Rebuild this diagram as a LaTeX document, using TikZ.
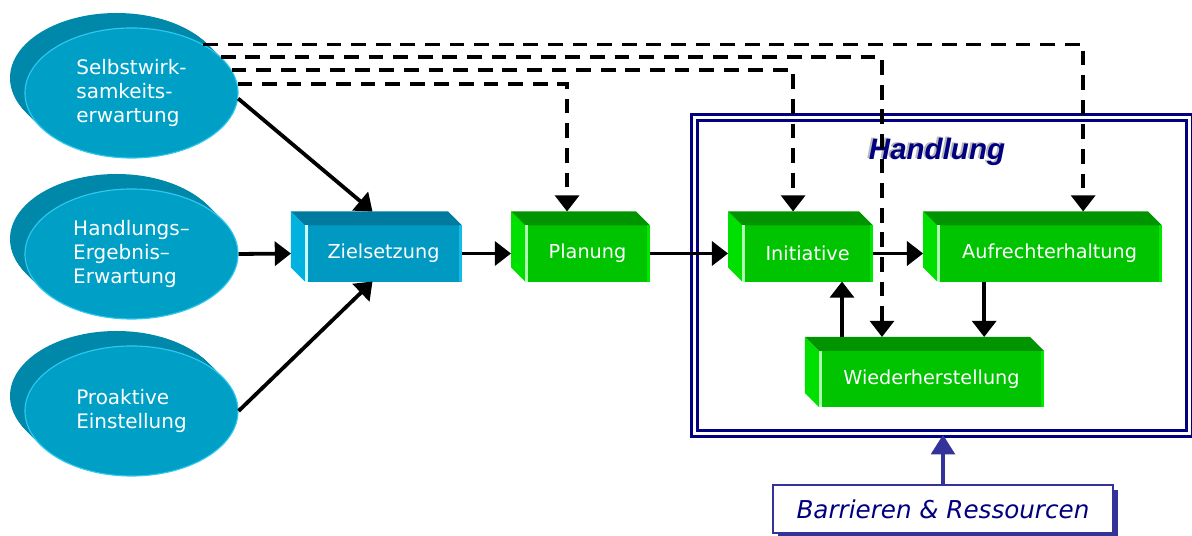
\documentclass[tikz,border=0pt]{standalone}
\usepackage{fontspec}
\setmainfont{DejaVu Sans}
\newfontfamily\titlefont{Liberation Sans}
\definecolor{EFront}{HTML}{00A0C6}
\definecolor{ESide}{HTML}{0088AA}
\definecolor{ERim}{HTML}{30C8EE}
\definecolor{ZFront}{HTML}{0099C2}
\definecolor{ZTop}{HTML}{007A9E}
\definecolor{ZSide}{HTML}{00B2DD}
\definecolor{ZHi}{HTML}{C8FFFF}
\definecolor{ZRim}{HTML}{10BDE8}
\definecolor{GFront}{HTML}{00C400}
\definecolor{GTop}{HTML}{009400}
\definecolor{GSide}{HTML}{00E000}
\definecolor{GHi}{HTML}{B0FFB0}
\definecolor{GRim}{HTML}{00E800}
\definecolor{Navy}{HTML}{000080}
\definecolor{NavyB}{HTML}{333399}
\usetikzlibrary{positioning,shapes.geometric,arrows.meta,calc,shadows}

\begin{document}
\begin{tikzpicture}[x=0.025cm, y=-0.025cm,
    ell/.style={ellipse, fill=EFront, draw=ERim, line width=0.8pt, minimum width=5.325cm,
      minimum height=3.25cm, text=white, align=left, font=\fontsize{14.2}{17}\selectfont},
    blk/.style={rectangle, minimum height=1.4cm, inner sep=0pt, outer sep=0pt, text=white,
      font=\fontsize{13.7}{16}\selectfont},
    arr/.style={-{Triangle[length=11.5pt,width=17pt]}, line width=2.7pt},
    dsh/.style={arr, dash pattern=on 10.5pt off 7pt}]
  \useasboundingbox (0,0) rectangle (1192,536);

  % Ellipsen mit Tiefe
  \foreach \cy in {93,254,411}
    \foreach \k in {15,14,...,1}
      \fill[ESide] (131.5-\k,\cy-\k) ellipse [x radius=106.5, y radius=65];
  \node[ell] (selbst) at (131.5,93) {Selbstwirk-\\samkeits-\\erwartung};
  \node[ell] (ergebnis) at (131.5,254) {Handlungs–\\Ergebnis–\\Erwartung};
  \node[ell] (proaktiv) at (131.5,411) {Proaktive\\Einstellung};

  % Rahmen
  \node[draw=Navy, line width=1.8pt, double=white, double distance=2.2pt,
    minimum width=12.375cm, minimum height=7.9cm, inner sep=0pt] (handlung) at (942,275.5) {};
  \node[text=gray!55, font=\titlefont\bfseries\itshape\fontsize{21}{24}\selectfont] (schatten) at (935,151) {Handlung};
  \node[text=Navy, font=\titlefont\bfseries\itshape\fontsize{21}{24}\selectfont] (titel) at (937,152) {Handlung};

  % Quader
  \node[blk, fill=ZFront, minimum width=3.925cm] (ziel) at (383.5,253.5) {Zielsetzung};
  \node[blk, fill=GFront, minimum width=3.125cm, right=1.575cm of ziel] (plan) {Planung};
  \node[blk, fill=GFront, minimum width=3.275cm, right=2.3cm of plan] (init) {Initiative};
  \node[blk, fill=GFront, minimum width=5.625cm, right=1.6cm of init] (aufrecht) {Aufrechterhaltung};
  \node[blk, fill=GFront, minimum width=5.625cm] (wieder) at (931.5,379) {Wiederherstellung};
  \foreach \n/\tp/\sd/\hi/\rm in {ziel/ZTop/ZSide/ZHi/ZRim, plan/GTop/GSide/GHi/GRim,
      init/GTop/GSide/GHi/GRim, aufrecht/GTop/GSide/GHi/GRim, wieder/GTop/GSide/GHi/GRim}{
    \fill[\tp] (\n.north west) -- (\n.north east) -- ++(-14,-14) -- ($(\n.north west)+(-14,-14)$) -- cycle;
    \fill[\sd] (\n.north west) -- ++(-14,-14) -- ($(\n.south west)+(-14,-14)$) -- (\n.south west) -- cycle;
    \fill[\hi] (\n.north west) rectangle ($(\n.south west)+(3,0)$);
    \fill[\rm] (\n.north east) rectangle ($(\n.south east)+(-3,0)$);
  }

  \node[draw=NavyB, fill=white, line width=1pt, minimum width=8.5cm, minimum height=1.2cm,
    text=Navy, font=\itshape\fontsize{17.5}{20}\selectfont,
    drop shadow={shadow xshift=3.5pt, shadow yshift=-3.5pt, fill=NavyB, opacity=1}] (barr) at (943,509) {Barrieren \& Ressourcen};

  % Anschlusspunkte
  \coordinate (zoben) at ($(ziel.north)+(-11,-14)$);
  \coordinate (zunten) at ($(ziel.south)+(-11,0)$);
  \coordinate (poben) at ($(plan.north)+(-20.5,-14)$);
  \coordinate (ioben) at ($(init.north)+(-14.5,-14)$);
  \coordinate (aoben) at ($(aufrecht.north)+(33.5,-14)$);
  \coordinate (aunten) at ($(aufrecht.south)+(-65.5,0)$);
  \coordinate (woben) at ($(wieder.north)+(-49.5,-14)$);
  \coordinate (wlinks) at ($(wieder.north)+(-89.5,-14)$);

  \draw[arr] (selbst.-3) -- (zoben);
  \draw[arr] (ergebnis.east) -- ($(ziel.west)+(-14,0)$);
  \draw[arr] (proaktiv.east) -- (zunten);
  \draw[arr] (ziel.east) -- ($(plan.west)+(-14,0)$);
  \draw[arr] (plan.east) -- ($(init.west)+(-14,0)$);
  \draw[arr] (init.east) -- ($(aufrecht.west)+(-14,0)$);
  \draw[arr] (aunten) -- (aunten |- woben);
  \draw[arr] (wlinks) -- (wlinks |- init.south);

  \draw[dsh] (selbst.34) -| (aoben);
  \draw[dsh] (selbst.22) -| (woben);
  \draw[dsh] (selbst.13) -| (ioben);
  \draw[dsh] (selbst.5) -| (poben);

  \draw[-{Triangle[length=14pt,width=17pt]}, line width=2.4pt, NavyB] (barr.north) -- (barr.north |- handlung.south);
\end{tikzpicture}
\end{document}
